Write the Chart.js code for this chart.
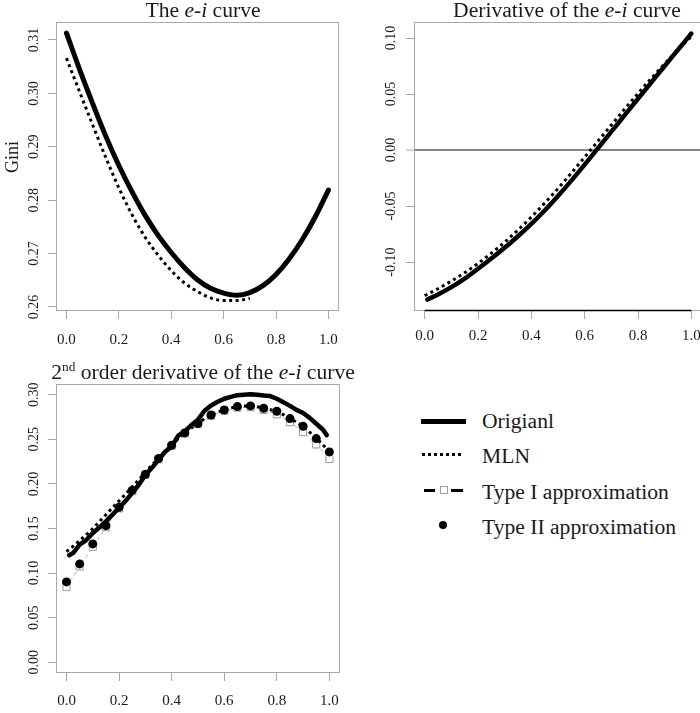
<!DOCTYPE html>
<html>
<head>
<meta charset="utf-8">
<script src="https://cdn.jsdelivr.net/npm/chart.js@4.4.0/dist/chart.umd.min.js"></script>
<style>
  html, body { margin: 0; padding: 0; background: #fff; }
  body { width: 700px; height: 713px; position: relative; overflow: hidden;
         font-family: "Liberation Serif", "DejaVu Serif", serif; color: #1a1a1a; }
  canvas { position: absolute; }
  .title { position: absolute; font-size: 21.6px; line-height: 21.6px; white-space: nowrap; transform: translateX(-50%); }
  .title sup { font-size: 0.62em; line-height: 0; vertical-align: 0.6em; }
  .ylab { position: absolute; font-size: 18px; line-height: 18px; white-space: nowrap; transform: translate(-50%, -50%) rotate(-90deg); }
  .leg { position: absolute; left: 482px; font-size: 21.6px; line-height: 21.6px; white-space: nowrap; }
  .sym { position: absolute; }
</style>
</head>
<body>
<canvas id="c1" width="350" height="356" style="left:0;top:0"></canvas>
<canvas id="c2" width="360" height="356" style="left:350px;top:0"></canvas>
<canvas id="c3" width="350" height="357" style="left:0;top:356px"></canvas>

<div class="title" style="left:203px;top:0">The <i>e-i</i> curve</div>
<div class="title" style="left:567px;top:0">Derivative of the <i>e-i</i> curve</div>
<div class="title" style="left:203px;top:362px">2<sup>nd</sup> order derivative of the <i>e-i</i> curve</div>
<div class="ylab" style="left:12px;top:157px">Gini</div>

<!-- legend -->
<div class="sym" style="left:421px;top:418.5px;width:45px;height:5px;background:#000"></div>
<div class="leg" style="top:411px">Origianl</div>
<div class="sym" style="left:422px;top:453px;width:42px;height:3px;background:repeating-linear-gradient(90deg,#000 0 3px,transparent 3px 6px)"></div>
<div class="leg" style="top:446px">MLN</div>
<div class="sym" style="left:424px;top:488.5px;width:11px;height:3px;background:#000"></div>
<div class="sym" style="left:440px;top:486px;width:6px;height:6px;border:1px solid #a0a0a0;background:#fff"></div>
<div class="sym" style="left:451px;top:488.5px;width:12px;height:3px;background:#000"></div>
<div class="leg" style="top:482px">Type I approximation</div>
<div class="sym" style="left:439px;top:521px;width:8px;height:8px;border-radius:50%;background:#000"></div>
<div class="leg" style="top:517px">Type II approximation</div>

<script>
// ---- data ----
const xTicks = [0, 0.2, 0.4, 0.6, 0.8, 1.0];
const xTickLabels = ['0.0', '0.2', '0.4', '0.6', '0.8', '1.0'];

// panel 1: the e-i curve (Gini)
const eiX = [0, 0.05, 0.1, 0.15, 0.2, 0.25, 0.3, 0.35, 0.4, 0.45, 0.5, 0.55, 0.6, 0.65, 0.7, 0.75, 0.8, 0.85, 0.9, 0.95, 1.0];
const eiOriginal = [0.3113, 0.3045, 0.2981, 0.2920, 0.2865, 0.2816, 0.2772, 0.2734, 0.2702, 0.2674, 0.2651,
                    0.2635, 0.2626, 0.2622, 0.2627, 0.2640, 0.2661, 0.2690, 0.2726, 0.2769, 0.2819];
const eiMlnX = [0, 0.05, 0.1, 0.15, 0.2, 0.25, 0.3, 0.35, 0.4, 0.45, 0.5, 0.55, 0.6, 0.65, 0.7];
const eiMln = [0.3066, 0.3003, 0.2941, 0.2880, 0.2823, 0.2773, 0.2731, 0.2697, 0.2668, 0.2645, 0.2629,
               0.2617, 0.2612, 0.2612, 0.2616];
const eiYTicks = [0.26, 0.27, 0.28, 0.29, 0.30, 0.31];
const eiYLabels = ['0.26', '0.27', '0.28', '0.29', '0.30', '0.31'];

// panel 2: derivative
const d1OriginalX = [0.01, 0.05, 0.1, 0.15, 0.2, 0.25, 0.3, 0.35, 0.4, 0.45, 0.5, 0.55, 0.6, 0.65, 0.7, 0.75, 0.8, 0.85, 0.9, 0.95, 1.0];
const d1Original = [-0.1335, -0.1289, -0.1224, -0.1148, -0.1060, -0.0968, -0.0872, -0.0770, -0.0660, -0.0540, -0.0410,
                    -0.0273, -0.0130, 0.0017, 0.0164, 0.0311, 0.0458, 0.0604, 0.0750, 0.0895, 0.1040];
const d1Mln = [-0.1300, -0.1238, -0.1170, -0.1095, -0.1012, -0.0921, -0.0822, -0.0714, -0.0598, -0.0474, -0.0343,
               -0.0205, -0.0063, 0.0080, 0.0224, 0.0366, 0.0505, 0.0640, 0.0770, 0.0895, 0.1015];
const d1YTicks = [-0.10, -0.05, 0, 0.05, 0.10];
const d1YLabels = ['-0.10', '-0.05', '0.00', '0.05', '0.10'];

// panel 3: 2nd order derivative
const d2OriginalX = [0.01, 0.025, 0.05, 0.075, 0.1, 0.125, 0.15, 0.175, 0.2, 0.225, 0.25, 0.275, 0.3, 0.325, 0.35, 0.375,
                     0.4, 0.425, 0.45, 0.475, 0.5, 0.525, 0.55, 0.575, 0.6, 0.625, 0.65, 0.675, 0.7, 0.725, 0.75, 0.775,
                     0.8, 0.825, 0.85, 0.875, 0.9, 0.925, 0.95, 0.975, 0.99];
const d2Original = [0.1200, 0.1225, 0.1320, 0.1370, 0.1450, 0.1510, 0.1580, 0.1655, 0.1735, 0.1810, 0.1900, 0.1990,
                    0.2100, 0.2180, 0.2270, 0.2360, 0.2420, 0.2540, 0.2590, 0.2660, 0.2720, 0.2820, 0.2880, 0.2920,
                    0.2955, 0.2975, 0.2995, 0.3000, 0.3005, 0.3000, 0.2990, 0.2985, 0.2955, 0.2915, 0.2875, 0.2830,
                    0.2795, 0.2740, 0.2675, 0.2610, 0.2547];
const d2Mln = [0.1240, 0.1365, 0.1500, 0.1655, 0.1810, 0.1965, 0.2130, 0.2290, 0.2440, 0.2570, 0.2680,
               0.2775, 0.2830, 0.2866, 0.2874, 0.2850, 0.2810, 0.2735, 0.2642, 0.2512, 0.2362];
const d2TypeI = [0.0843, 0.1075, 0.1295, 0.1515, 0.1725, 0.1918, 0.2100, 0.2277, 0.2428, 0.2567, 0.2670,
                 0.2765, 0.2820, 0.2855, 0.2860, 0.2830, 0.2780, 0.2692, 0.2580, 0.2442, 0.2280];
const d2TypeII = [0.0901, 0.1103, 0.1327, 0.1532, 0.1738, 0.1928, 0.2108, 0.2284, 0.2433, 0.2572, 0.2676,
                  0.2773, 0.2829, 0.2867, 0.2874, 0.2848, 0.2814, 0.2732, 0.2646, 0.2508, 0.2359];
const d2YTicks = [0, 0.05, 0.10, 0.15, 0.20, 0.25, 0.30];
const d2YLabels = ['0.00', '0.05', '0.10', '0.15', '0.20', '0.25', '0.30'];

// ---- drawing ----
Chart.defaults.font.family = '"Liberation Serif", serif';
const BOX = '#a8a8a8';
const INK = '#1a1a1a';

const pts = (xs, ys) => ys.map((y, i) => ({ x: xs[i], y: y }));

// R-like box, axis line and vertical y tick labels
const rBox = {
  id: 'rBox',
  beforeDatasetsDraw(chart, args, o) {
    const { ctx, chartArea: a } = chart;
    ctx.save();
    ctx.strokeStyle = BOX;
    ctx.lineWidth = 1;
    ctx.strokeRect(Math.round(a.left) + 0.5, Math.round(a.top) + 0.5,
                   Math.round(a.right - a.left) - 1, Math.round(a.bottom - a.top) - 1);
    if (o.axisColor) {
      const xs = chart.scales.x;
      ctx.strokeStyle = o.axisColor;
      ctx.lineWidth = 1.5;
      ctx.beginPath();
      ctx.moveTo(xs.getPixelForValue(xTicks[0]), Math.round(a.bottom) - 0.5);
      ctx.lineTo(xs.getPixelForValue(xTicks[xTicks.length - 1]), Math.round(a.bottom) - 0.5);
      ctx.stroke();
    }
    ctx.restore();
  },
  afterDraw(chart, args, o) {
    const ys = chart.scales.y, ctx = chart.ctx;
    ctx.save();
    ctx.font = '14px "Liberation Serif"';
    ctx.fillStyle = INK;
    ctx.textAlign = 'center';
    ctx.textBaseline = 'middle';
    o.values.forEach((v, i) => {
      ctx.save();
      ctx.translate(o.x, ys.getPixelForValue(v));
      ctx.rotate(-Math.PI / 2);
      ctx.fillText(o.labels[i], 0, 0);
      ctx.restore();
    });
    ctx.restore();
  }
};

function makeChart(id, datasets, c) {
  return new Chart(document.getElementById(id), {
    type: 'line',
    data: { datasets: datasets },
    plugins: [rBox],
    options: {
      responsive: false,
      animation: false,
      events: [],
      layout: { padding: { top: c.padTop, right: c.padRight, left: 0, bottom: 0 } },
      plugins: {
        legend: { display: false },
        tooltip: { enabled: false },
        rBox: { x: c.yLabelX, values: c.yTicks, labels: c.yLabels, axisColor: c.axisColor }
      },
      scales: {
        x: {
          type: 'linear', min: -0.04, max: 1.04,
          afterBuildTicks: s => { s.ticks = xTicks.map(v => ({ value: v })); },
          afterFit: s => { s.height = c.xHeight; },
          ticks: {
            autoSkip: false, maxRotation: 0, padding: c.xPad, color: INK,
            font: { size: 15 },
            callback: (v, i) => xTickLabels[i]
          },
          grid: { drawOnChartArea: false, tickLength: 8, tickColor: BOX, tickWidth: 1 },
          border: { display: false }
        },
        y: {
          type: 'linear', min: c.yMin, max: c.yMax,
          afterBuildTicks: s => { s.ticks = c.yTicks.map(v => ({ value: v })); },
          afterFit: s => { s.width = c.yWidth; },
          ticks: { display: false },
          grid: c.zeroLine ? {
            drawOnChartArea: true, tickLength: 8, tickColor: BOX, tickWidth: 1,
            color: g => (g.tick && g.tick.value === 0) ? '#858585' : 'rgba(0,0,0,0)',
            lineWidth: g => (g.tick && g.tick.value === 0) ? 2 : 1
          } : { drawOnChartArea: false, tickLength: 8, tickColor: BOX, tickWidth: 1 },
          border: { display: false }
        }
      }
    }
  });
}

const solid = (data, w) => ({ data: data, borderColor: '#000', borderWidth: w, pointRadius: 0,
                              cubicInterpolationMode: 'monotone', borderCapStyle: 'round', borderJoinStyle: 'round' });
const dotted = data => ({ data: data, borderColor: '#000', borderWidth: 3, borderDash: [3, 3.5], pointRadius: 0,
                          cubicInterpolationMode: 'monotone' });

makeChart('c1', [
  solid(pts(eiX, eiOriginal), 5),
  dotted(pts(eiMlnX, eiMln))
], { yMin: 0.25925, yMax: 0.31337, yTicks: eiYTicks, yLabels: eiYLabels, yLabelX: 34.5,
     padTop: 22, padRight: 6, yWidth: 56, xHeight: 45, xPad: 12 });

makeChart('c2', [
  solid(pts(d1OriginalX, d1Original), 4.5),
  dotted(pts(eiX, d1Mln))
], { yMin: -0.1437, yMax: 0.1143, yTicks: d1YTicks, yLabels: d1YLabels, yLabelX: 41,
     padTop: 22, padRight: 8, yWidth: 64, xHeight: 45, xPad: 8, zeroLine: true, axisColor: '#000' });

makeChart('c3', [
  { data: pts(eiX, d2TypeII), showLine: false, pointRadius: 4.5, pointStyle: 'circle',
    pointBackgroundColor: '#000', pointBorderColor: '#000', pointBorderWidth: 0 },
  dotted(pts(eiX, d2Mln)),
  { data: pts(d2OriginalX, d2Original), borderColor: '#000', borderWidth: 4.5, pointRadius: 0,
    borderCapStyle: 'round', borderJoinStyle: 'round' },
  { data: pts(eiX, d2TypeI), borderColor: '#b5b5b5', borderWidth: 1, borderDash: [4, 3],
    pointRadius: 5, pointStyle: 'rect', pointBackgroundColor: '#fff', pointBorderColor: '#9a9a9a', pointBorderWidth: 1 }
], { yMin: -0.012, yMax: 0.312, yTicks: d2YTicks, yLabels: d2YLabels, yLabelX: 34.5,
     padTop: 28, padRight: 6, yWidth: 56, xHeight: 40, xPad: 11 });
</script>
</body>
</html>
